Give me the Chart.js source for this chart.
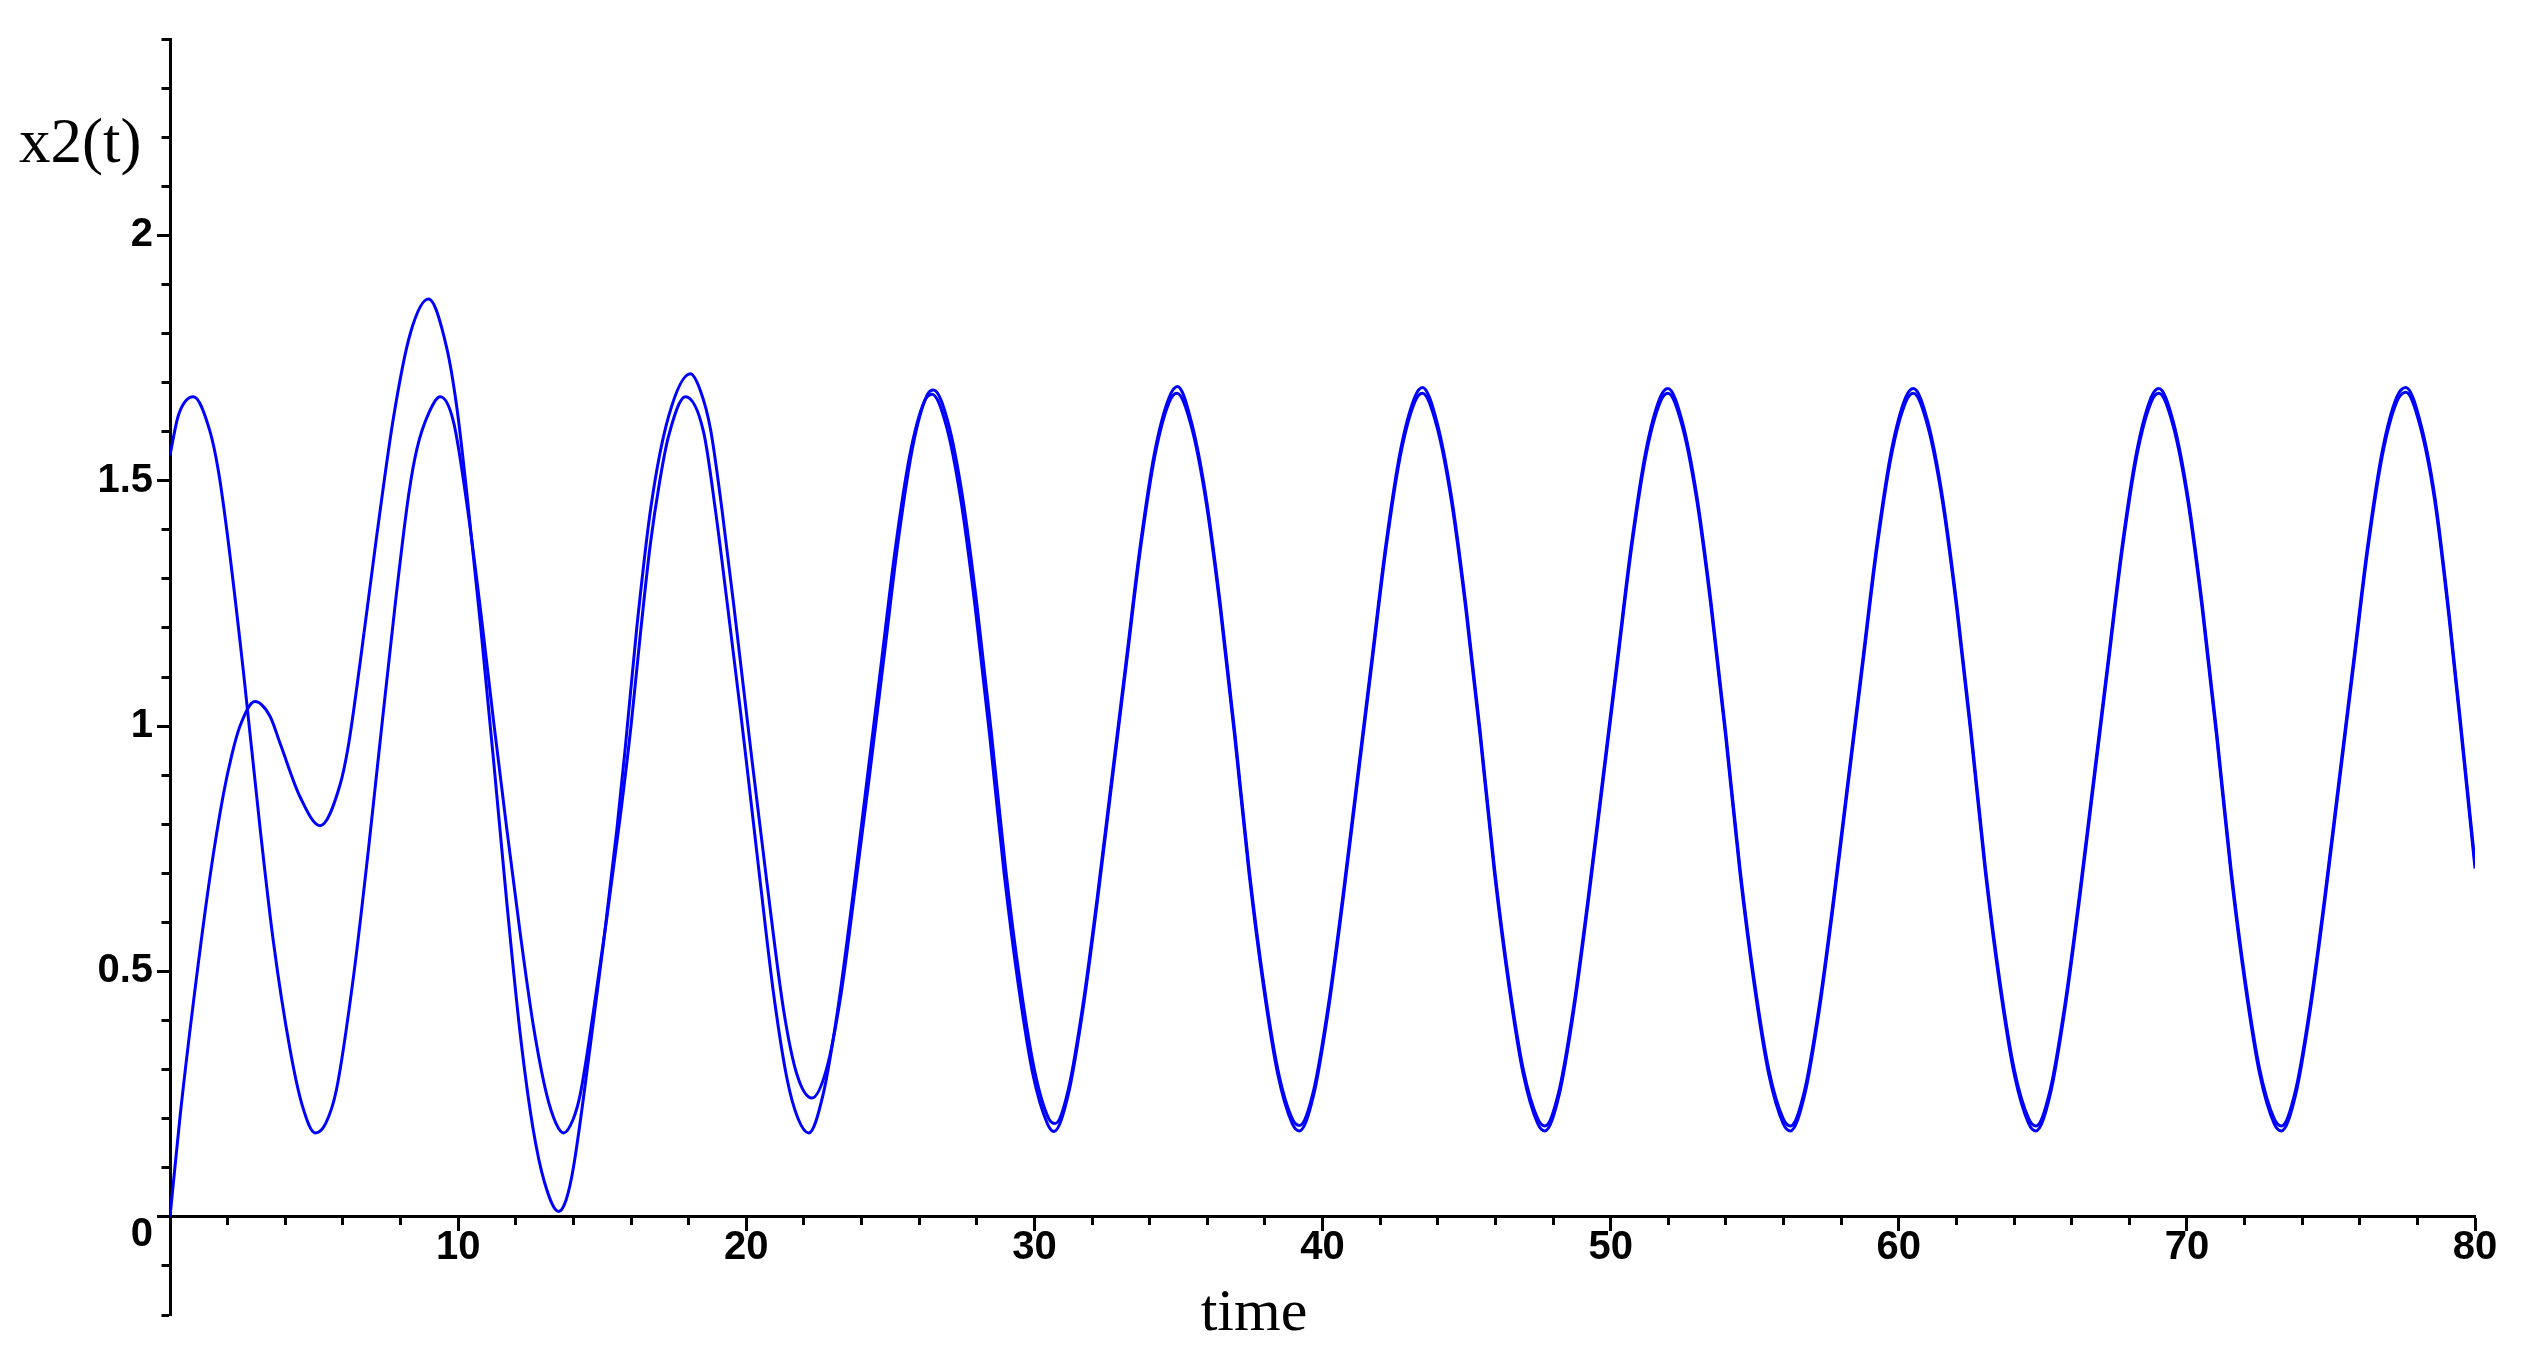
<!DOCTYPE html>
<html><head><meta charset="utf-8">
<script src="https://cdn.jsdelivr.net/npm/chart.js@4.4.1/dist/chart.umd.min.js"></script>
<style>
html,body{margin:0;padding:0;background:#fff;}
#wrap{position:relative;width:2536px;height:1364px;background:#fff;}
canvas{position:absolute;left:0;top:0;}
.t{position:absolute;font-family:'Liberation Serif','DejaVu Serif',serif;font-size:60px;line-height:60px;color:#000;white-space:nowrap;}
</style></head><body>
<div id="wrap"><canvas id="c" width="2536" height="1364"></canvas>
<div class="t" style="left:19px;top:111px;font-size:63px;">x2(t)</div>
<div class="t" style="left:1154px;top:1280px;width:200px;text-align:center;">time</div>
</div>
<script>
// ---- data ----
const timeA = [0, 0.29, 0.81, 1.39, 1.68, 1.97, 2.55, 3.13, 3.59, 4.17, 4.6, 5.04, 5.4, 5.78, 6.37, 6.89, 7.24, 7.82, 8.28, 8.57, 9.0, 9.38,
  9.84, 10.31, 10.77, 11.23, 11.69, 12.15, 12.61, 13.07, 13.4, 13.66, 14.0, 14.24, 14.70, 15.17, 15.63, 16.0, 16.33, 16.67, 17.0, 17.3, 17.89,
  18.52, 18.93, 19.34, 19.80, 20.03, 20.49, 20.96, 21.42, 21.8, 22.17,
  22.67, 23.17, 23.67, 24.17, 24.67, 25.17, 25.67, 26.17, 26.45, 26.95, 27.45, 27.95, 28.45, 28.95, 29.45, 29.95, 30.45, 30.68,
  31.18, 31.68, 32.18, 32.68, 33.18, 33.68, 34.18, 34.68, 34.95, 35.45, 35.95, 36.45, 36.95, 37.45, 37.95, 38.45, 38.95, 39.2,
  39.7, 40.2, 40.7, 41.2, 41.7, 42.2, 42.7, 43.2, 43.47, 43.97, 44.47, 44.97, 45.47, 45.97, 46.47, 46.97, 47.47, 47.72,
  48.22, 48.72, 49.22, 49.72, 50.22, 50.72, 51.22, 51.72, 51.99, 52.49, 52.99, 53.49, 53.99, 54.49, 54.99, 55.49, 55.99, 56.24,
  56.74, 57.24, 57.74, 58.24, 58.74, 59.24, 59.74, 60.24, 60.51, 61.01, 61.51, 62.01, 62.51, 63.01, 63.51, 64.01, 64.51, 64.76,
  65.26, 65.76, 66.26, 66.76, 67.26, 67.76, 68.26, 68.76, 69.03, 69.53, 70.03, 70.53, 71.03, 71.53, 72.03, 72.53, 73.03, 73.28,
  73.78, 74.28, 74.78, 75.28, 75.78, 76.28, 76.78, 77.28, 77.6, 78.1, 78.6, 79.1, 79.6, 80.0];
const x2A = [1.552, 1.633, 1.671, 1.60, 1.52, 1.40, 1.11, 0.79, 0.56, 0.34, 0.225, 0.171, 0.19, 0.26, 0.49, 0.75, 0.94, 1.25, 1.47, 1.565, 1.64, 1.671,
  1.62, 1.45, 1.24, 1.01, 0.79, 0.58, 0.39, 0.25, 0.19, 0.171, 0.2, 0.25, 0.42, 0.613, 0.817, 1.0, 1.19, 1.37, 1.5, 1.59, 1.671,
  1.599, 1.44, 1.25, 1.03, 0.915, 0.68, 0.45, 0.28, 0.2, 0.171,
  0.25, 0.42, 0.64, 0.88, 1.12, 1.36, 1.55, 1.66, 1.676, 1.61, 1.46, 1.24, 0.98, 0.70, 0.47, 0.29, 0.19, 0.174,
  0.25, 0.42, 0.64, 0.88, 1.12, 1.36, 1.55, 1.66, 1.678, 1.61, 1.46, 1.24, 0.98, 0.70, 0.47, 0.29, 0.19, 0.175,
  0.25, 0.42, 0.64, 0.88, 1.12, 1.36, 1.55, 1.66, 1.678, 1.61, 1.46, 1.24, 0.98, 0.70, 0.47, 0.29, 0.19, 0.175,
  0.25, 0.42, 0.64, 0.88, 1.12, 1.36, 1.55, 1.66, 1.678, 1.61, 1.46, 1.24, 0.98, 0.70, 0.47, 0.29, 0.19, 0.175,
  0.25, 0.42, 0.64, 0.88, 1.12, 1.36, 1.55, 1.66, 1.678, 1.61, 1.46, 1.24, 0.98, 0.70, 0.47, 0.29, 0.19, 0.175,
  0.25, 0.42, 0.64, 0.88, 1.12, 1.36, 1.55, 1.66, 1.678, 1.61, 1.46, 1.24, 0.98, 0.70, 0.47, 0.29, 0.19, 0.175,
  0.25, 0.42, 0.64, 0.88, 1.12, 1.36, 1.55, 1.66, 1.68, 1.61, 1.46, 1.22, 0.94, 0.71];

const timeB = [0, 0.35, 0.81, 1.39, 1.85, 2.14, 2.43, 2.95, 3.47, 3.82, 4.52, 5.21, 5.9, 6.19, 6.6, 7.18, 7.76, 8.34, 8.97,
  9.61, 9.96, 10.31, 10.77, 11.23, 11.69, 12.16, 12.6, 13.0, 13.49, 13.75, 14.0, 14.59, 15.05, 15.51, 15.8, 16.2, 16.7, 17.3, 18.06,
  18.4, 18.76, 19.16, 19.63, 20.2, 20.72, 21.30, 21.76, 22.28,
  22.78, 23.28, 23.78, 24.28, 24.78, 25.28, 25.78, 26.28, 26.5, 27.0, 27.5, 28.0, 28.5, 29.0, 29.5, 30.0, 30.5, 30.72,
  31.18, 31.68, 32.18, 32.68, 33.18, 33.68, 34.18, 34.68, 34.97, 35.45, 35.95, 36.45, 36.95, 37.45, 37.95, 38.45, 38.95, 39.2,
  39.7, 40.2, 40.7, 41.2, 41.7, 42.2, 42.7, 43.2, 43.47, 43.97, 44.47, 44.97, 45.47, 45.97, 46.47, 46.97, 47.47, 47.72,
  48.22, 48.72, 49.22, 49.72, 50.22, 50.72, 51.22, 51.72, 51.99, 52.49, 52.99, 53.49, 53.99, 54.49, 54.99, 55.49, 55.99, 56.24,
  56.74, 57.24, 57.74, 58.24, 58.74, 59.24, 59.74, 60.24, 60.51, 61.01, 61.51, 62.01, 62.51, 63.01, 63.51, 64.01, 64.51, 64.76,
  65.26, 65.76, 66.26, 66.76, 67.26, 67.76, 68.26, 68.76, 69.03, 69.53, 70.03, 70.53, 71.03, 71.53, 72.03, 72.53, 73.03, 73.28,
  73.78, 74.28, 74.78, 75.28, 75.78, 76.28, 76.78, 77.28, 77.6, 78.1, 78.6, 79.1, 79.6, 80.0];
const x2B = [0, 0.205, 0.436, 0.694, 0.86, 0.94, 1.0, 1.05, 1.02, 0.965, 0.855, 0.797, 0.88, 0.96, 1.13, 1.39, 1.63, 1.80, 1.870,
  1.769, 1.647, 1.47, 1.21, 0.93, 0.64, 0.37, 0.18, 0.07, 0.011, 0.035, 0.1, 0.35, 0.56, 0.79, 0.955, 1.2, 1.45, 1.63, 1.718,
  1.685, 1.605, 1.44, 1.215, 0.93, 0.68, 0.42, 0.29, 0.242,
  0.30, 0.45, 0.67, 0.90, 1.14, 1.38, 1.57, 1.675, 1.685, 1.62, 1.47, 1.25, 0.99, 0.71, 0.48, 0.30, 0.20, 0.19,
  0.26, 0.43, 0.65, 0.89, 1.13, 1.37, 1.56, 1.67, 1.692, 1.62, 1.47, 1.25, 0.99, 0.71, 0.48, 0.30, 0.20, 0.186,
  0.26, 0.43, 0.65, 0.89, 1.13, 1.37, 1.56, 1.67, 1.69, 1.62, 1.47, 1.25, 0.99, 0.71, 0.48, 0.30, 0.20, 0.185,
  0.26, 0.43, 0.65, 0.89, 1.13, 1.37, 1.56, 1.67, 1.688, 1.62, 1.47, 1.25, 0.99, 0.71, 0.48, 0.30, 0.20, 0.185,
  0.26, 0.43, 0.65, 0.89, 1.13, 1.37, 1.56, 1.67, 1.688, 1.62, 1.47, 1.25, 0.99, 0.71, 0.48, 0.30, 0.20, 0.185,
  0.26, 0.43, 0.65, 0.89, 1.13, 1.37, 1.56, 1.67, 1.688, 1.62, 1.47, 1.25, 0.99, 0.71, 0.48, 0.30, 0.20, 0.185,
  0.26, 0.43, 0.65, 0.89, 1.13, 1.37, 1.56, 1.67, 1.69, 1.62, 1.47, 1.23, 0.95, 0.72];

const xRange = [0, 80];
const yRange = [-0.2, 2.4];
const xTickLabels = ['10', '20', '30', '40', '50', '60', '70', '80'];
const yTickLabels = ['0.5', '1', '1.5', '2'];

// ---- chart ----
const tickFont = {family: "'Liberation Sans', Arial, sans-serif", size: 40, weight: 'bold', lineHeight: 0.9};
const isMajorX = v => Math.abs(v / 10 - Math.round(v / 10)) < 1e-6;
const isMajorY = v => Math.abs(v * 2 - Math.round(v * 2)) < 1e-6;
const lineStyle = {borderColor: '#0000ff', borderWidth: 3, pointRadius: 0, fill: false, cubicInterpolationMode: 'monotone'};

new Chart(document.getElementById('c'), {
  type: 'line',
  data: {
    datasets: [
      Object.assign({label: 'x2(t) A', data: timeA.map((t, i) => ({x: t, y: x2A[i]}))}, lineStyle),
      Object.assign({label: 'x2(t) B', data: timeB.map((t, i) => ({x: t, y: x2B[i]}))}, lineStyle)
    ]
  },
  options: {
    responsive: false,
    animation: false,
    devicePixelRatio: 1,
    layout: {padding: {left: 0, top: 39, right: 61, bottom: 49}},
    plugins: {legend: {display: false}, tooltip: {enabled: false}, title: {display: false}},
    scales: {
      x: {
        type: 'linear', min: xRange[0], max: xRange[1], position: {y: 0},
        ticks: {
          stepSize: 2, autoSkip: false, maxRotation: 0, padding: 0, color: '#000', font: tickFont,
          callback: v => { const s = String(Math.round(v)); return (isMajorX(v) && xTickLabels.includes(s)) ? s : ''; }
        },
        grid: {
          display: true, drawOnChartArea: false, drawTicks: true, tickLength: 13, tickWidth: 3, tickColor: '#000',
          tickBorderDash: ctx => (ctx.tick && isMajorX(ctx.tick.value)) ? [] : [7, 100]
        },
        border: {display: true, width: 3, color: '#000'}
      },
      y: {
        type: 'linear', min: yRange[0], max: yRange[1], position: 'left',
        afterFit: s => { s.width = 170; },
        ticks: {
          stepSize: 0.1, autoSkip: false, padding: 4, color: '#000', font: tickFont,
          callback: v => {
            if (Math.abs(v) < 1e-6) return ['', '0'];
            const s = String(Math.round(v * 10) / 10);
            return (isMajorY(v) && yTickLabels.includes(s)) ? s : '';
          }
        },
        grid: {
          display: true, drawOnChartArea: false, drawTicks: true, tickLength: 13, tickWidth: 3, tickColor: '#000',
          tickBorderDash: ctx => (ctx.tick && isMajorY(ctx.tick.value)) ? [] : [0, 4.5, 8, 100]
        },
        border: {display: true, width: 3, color: '#000'}
      }
    }
  }
});
</script>
</body></html>
